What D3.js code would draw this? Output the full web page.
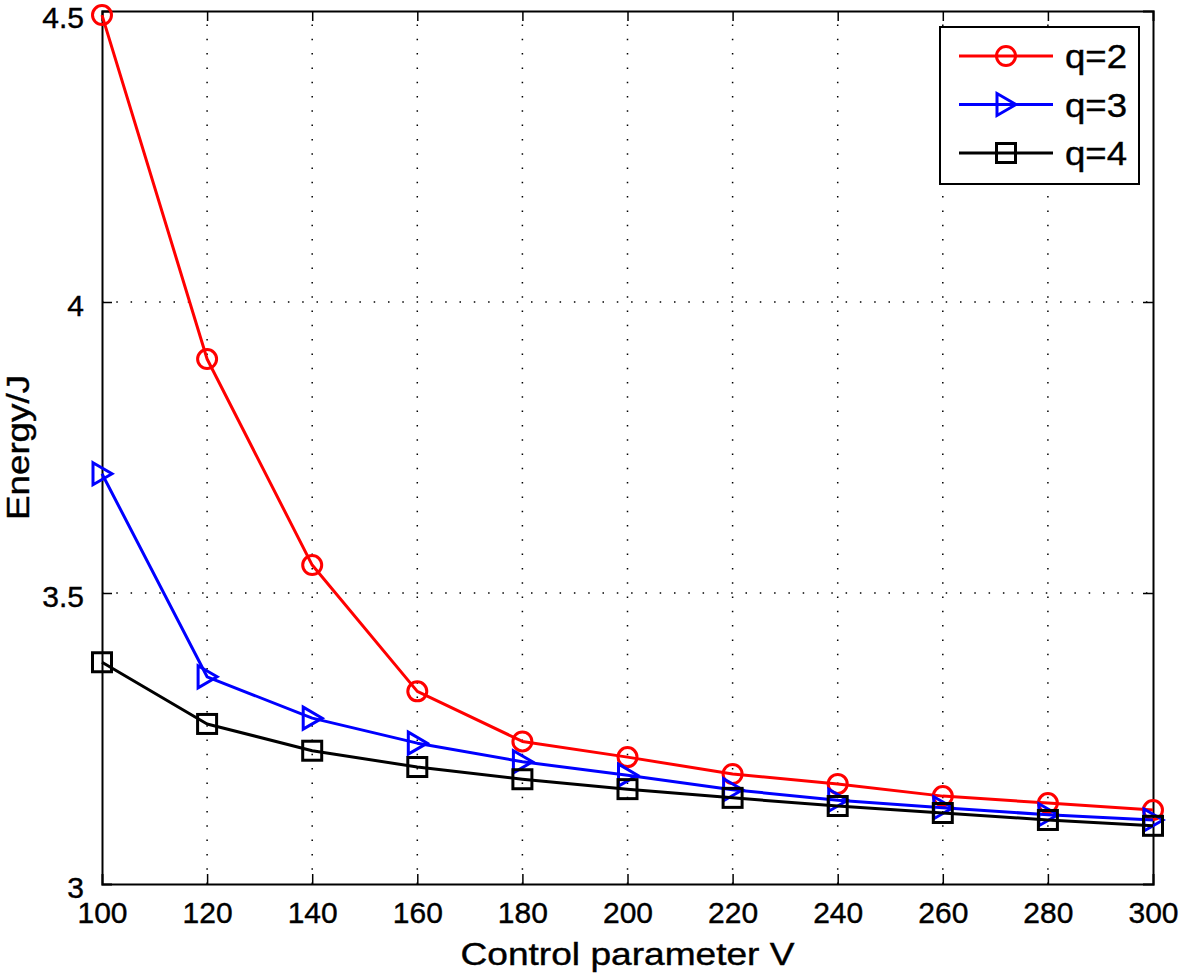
<!DOCTYPE html>
<html><head><meta charset="utf-8">
<script src="https://cdn.jsdelivr.net/npm/d3@7"></script>
<style>body{margin:0;background:#fff}svg{display:block}text{font-family:"Liberation Sans",Arial,Helvetica,sans-serif;fill:#000;stroke:#000;stroke-width:0.4px}</style>
</head><body>
<script>
const xValues = [100,120,140,160,180,200,220,240,260,280,300];
const q2 = [4.493,3.902,3.548,3.331,3.245,3.218,3.189,3.172,3.151,3.139,3.127];
const q3 = [3.705,3.356,3.285,3.242,3.210,3.187,3.162,3.144,3.131,3.119,3.110];
const q4 = [3.381,3.275,3.229,3.201,3.180,3.163,3.148,3.134,3.122,3.110,3.100];
const seriesNames = ["q=2","q=3","q=4"];
const xTicks = [100,120,140,160,180,200,220,240,260,280,300];
const yTicks = [3,3.5,4,4.5];
const yTickLabels = ["3","3.5","4","4.5"];

const W=1181,H=974, m={l:102,t:11,r:28,b:90};
const svg=d3.select("body").append("svg").attr("width",W).attr("height",H);
const x=d3.scaleLinear().domain([100,300]).range([m.l,W-m.r]);
const y=d3.scaleLinear().domain([3,4.5]).range([H-m.b,m.t]);

// grid
const g=svg.append("g");
g.selectAll(".vg").data(xTicks.slice(1,-1)).join("line")
 .attr("x1",d=>x(d)).attr("x2",d=>x(d)).attr("y1",y(3)).attr("y2",y(4.5))
 .attr("stroke","#000").attr("stroke-width",1.5).attr("stroke-dasharray","1.5,12.8");
g.selectAll(".hg").data(yTicks.slice(1,-1)).join("line")
 .attr("y1",d=>y(d)).attr("y2",d=>y(d)).attr("x1",x(100)).attr("x2",x(300))
 .attr("stroke","#000").attr("stroke-width",1.5).attr("stroke-dasharray","1.5,12.8");

// axes
const tl=10;
const axB=svg.append("g").attr("transform",`translate(0,${y(3)})`)
 .call(d3.axisBottom(x).tickValues(xTicks).tickSize(-tl).tickPadding(tl+8).tickFormat(d3.format("d")));
const axT=svg.append("g").attr("transform",`translate(0,${y(4.5)})`)
 .call(d3.axisTop(x).tickValues(xTicks).tickSize(-tl).tickFormat(""));
const axL=svg.append("g").attr("transform",`translate(${x(100)},0)`)
 .call(d3.axisLeft(y).tickValues(yTicks).tickSize(-tl).tickPadding(tl+8).tickFormat((d,i)=>yTickLabels[i]));
const axR=svg.append("g").attr("transform",`translate(${x(300)},0)`)
 .call(d3.axisRight(y).tickValues(yTicks).tickSize(-tl).tickFormat(""));
[axB,axT,axL,axR].forEach(a=>{
  a.select(".domain").attr("stroke","#000").attr("stroke-width",2);
  a.selectAll(".tick line").attr("stroke","#000").attr("stroke-width",1.5);
  a.selectAll("text").style("font-size","30px").attr("fill","#000");
});
axB.selectAll("text").attr("dy","0.71em");
axL.selectAll("text").attr("dy",(d)=>d===4.5?"0.55em":"0.44em");
axB.selectAll(".tick line").filter((d,i)=>i==0||i==xTicks.length-1).remove();
axT.selectAll(".tick line").filter((d,i)=>i==0||i==xTicks.length-1).remove();
axL.selectAll(".tick line").filter((d,i)=>i==0||i==yTicks.length-1).remove();
axR.selectAll(".tick line").filter((d,i)=>i==0||i==yTicks.length-1).remove();

svg.append("text").attr("x",(x(100)+x(300))/2).attr("y",965).attr("text-anchor","middle")
 .attr("textLength",334).attr("lengthAdjust","spacingAndGlyphs")
 .style("font-size","32px").text("Control parameter V");
svg.append("text").attr("transform",`translate(29,${(y(3)+y(4.5))/2}) rotate(-90)`).attr("text-anchor","middle")
 .attr("textLength",145).attr("lengthAdjust","spacingAndGlyphs")
 .style("font-size","32px").text("Energy/J");

const colors=["#ff0000","#0000ff","#000000"];
const data=[q2,q3,q4];
const sym=[
  (s,cx,cy)=>s.append("circle").attr("cx",cx).attr("cy",cy).attr("r",9.5),
  (s,cx,cy)=>s.append("path").attr("d",`M${cx-9},${cy-11}L${cx+10},${cy}L${cx-9},${cy+11}Z`),
  (s,cx,cy)=>s.append("rect").attr("x",cx-9.5).attr("y",cy-9.5).attr("width",19).attr("height",19)
];
const line=d3.line().x((d,i)=>x(xValues[i])).y(d=>y(d));
data.forEach((vals,k)=>{
  const sg=svg.append("g");
  sg.append("path").datum(vals).attr("d",line).attr("fill","none").attr("stroke",colors[k]).attr("stroke-width",3).attr("stroke-linejoin","round");
  vals.forEach((v,i)=>{
    sym[k](sg,x(xValues[i]),y(v)).attr("fill","none").attr("stroke",colors[k]).attr("stroke-width",3);
  });
});

// legend
const lg=svg.append("g");
lg.append("rect").attr("x",940).attr("y",27).attr("width",199).attr("height",157).attr("fill","#fff").attr("stroke","#000").attr("stroke-width",2);
seriesNames.forEach((n,k)=>{
  const yy=56+k*48.5;
  lg.append("line").attr("x1",959).attr("x2",1053).attr("y1",yy).attr("y2",yy).attr("stroke",colors[k]).attr("stroke-width",3);
  sym[k](lg,1006,yy).attr("fill","none").attr("stroke",colors[k]).attr("stroke-width",3);
  lg.append("text").attr("x",1065).attr("y",yy).attr("dy","0.36em")
   .attr("textLength",62).attr("lengthAdjust","spacingAndGlyphs")
   .style("font-size","34px").text(n);
});
</script>
</body></html>
